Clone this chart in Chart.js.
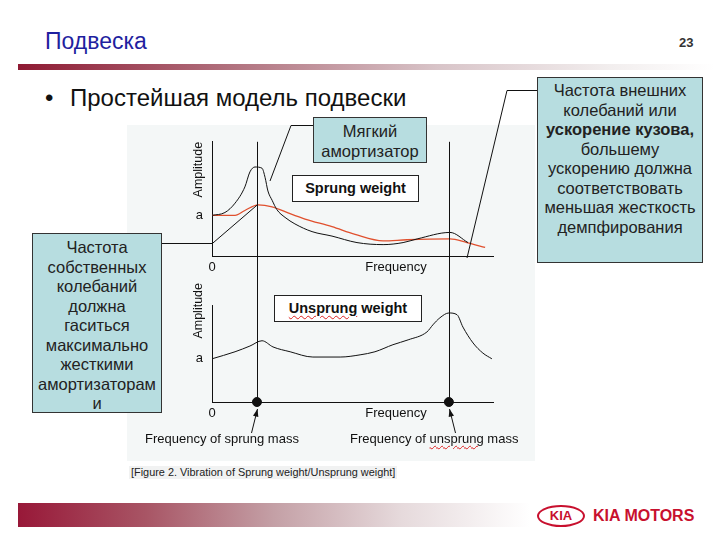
<!DOCTYPE html>
<html lang="ru">
<head>
<meta charset="utf-8">
<title>Подвеска</title>
<script src="https://cdn.jsdelivr.net/npm/chart.js@4.4.0/dist/chart.umd.min.js"></script>
<style>
  body { margin: 0; background: #fff; font-family: "Liberation Sans", Arial, sans-serif; }
  #lamina { position: relative; width: 720px; height: 540px; overflow: hidden; }
  .abs { position: absolute; white-space: nowrap; line-height: 1; }
  .caja {
    position: absolute; box-sizing: border-box; border: 1px solid #333;
    background: #b7dde0; text-align: center; font-size: 16.5px; line-height: 19.5px; color: #222;
  }
  .rotulo {
    position: absolute; box-sizing: border-box; border: 1px solid #222; background: #fff;
    text-align: center; font-weight: bold; font-size: 14.5px; line-height: 25px; color: #111;
  }
  .ondulado { text-decoration: underline wavy #d22; text-decoration-thickness: 1px; text-underline-offset: 2px; }
  .grafico { position: absolute; z-index: 1; }
</style>
</head>
<body>
<div id="lamina">
  <div class="abs" style="left:45px; top:30px; font-size:23px; color:#1f1f9f;">Подвеска</div>
  <div class="abs" style="left:679px; top:36px; font-size:13px; font-weight:bold; color:#333;">23</div>
  <div class="abs" style="left:18px; top:64px; width:697px; height:6px;
       background:linear-gradient(to right,#8e1a33 0%,#b0707d 30%,#d8c4c8 60%,#f2eeee 85%,#fff 100%);"></div>
  <div class="abs" style="left:45px; top:86px; font-size:24px; color:#111;">•</div>
  <div class="abs" style="left:70px; top:86px; font-size:24px; color:#111;">Простейшая модель подвески</div>

  <!-- fondo de la figura -->
  <div class="abs" style="left:127px; top:125px; width:408px; height:336px; background:#f4f7f7;"></div>
  <div class="abs" style="left:129px; top:466px; padding:1px 2px; font-size:10.9px; color:#222; background:#f1f2f2;">[Figure 2. Vibration of Sprung weight/Unsprung weight]</div>

  <div class="grafico" style="left:127px; top:125px; width:408px; height:160px;"><canvas id="graficoSusp"></canvas></div>
  <div class="grafico" style="left:127px; top:256px; width:408px; height:200px;"><canvas id="graficoNoSusp"></canvas></div>

  <div class="abs" style="left:145px; top:432px; font-size:13px; color:#111; z-index:2;">Frequency of sprung mass</div>
  <div class="abs" style="left:350px; top:432px; font-size:13px; color:#111; z-index:2;">Frequency of <span class="ondulado">unsprung</span> mass</div>

  <!-- lineas de las llamadas -->
  <svg class="abs" width="720" height="540" style="left:0; top:0; z-index:2; pointer-events:none;">
    <polyline points="313,125.5 291,125.5 270,181" fill="none" stroke="#111" stroke-width="1"/>
    <polyline points="537,90.5 507,90.5 467,258" fill="none" stroke="#111" stroke-width="1"/>
    <polyline points="162,243.5 212,243.5" fill="none" stroke="#111" stroke-width="1"/>
  </svg>

  <div class="caja" style="left:313px; top:117px; width:114px; height:46px; padding-top:4px; z-index:3;">Мягкий<br>амортизатор</div>
  <div class="rotulo" style="left:292px; top:175px; width:127px; height:27px; z-index:3;">Sprung weight</div>
  <div class="rotulo" style="left:274px; top:295px; width:148px; height:27px; z-index:3;"><span class="ondulado">Unsprung</span> weight</div>
  <div class="caja" style="left:32px; top:233px; width:130px; height:180px; padding-top:4px; z-index:3;">Частота<br>собственных<br>колебаний<br>должна<br>гаситься<br>максимально<br>жесткими<br>амортизаторам<br>и</div>
  <div class="caja" style="left:537px; top:77px; width:166px; height:186px; padding-top:3px; z-index:3;">Частота внешних<br>колебаний или<br><b>ускорение кузова,</b><br>большему<br>ускорению должна<br>соответствовать<br>меньшая жесткость<br>демпфирования</div>

  <!-- pie de la lamina -->
  <div class="abs" style="left:18px; top:503px; width:512px; height:24px;
       background:linear-gradient(to right,#981838 0%,#a85565 25%,#c4a0a6 50%,#e6dadc 75%,#fff 100%);"></div>
  <div class="abs" style="left:537px; top:505px; width:48px; height:22px; box-sizing:border-box; border:2px solid #c8102e;
       border-radius:50%; text-align:center; font-size:13px; line-height:18px; font-weight:bold; color:#c8102e;">KIA</div>
  <div class="abs" style="left:593px; top:508px; font-size:16px; font-weight:bold; color:#c8102e;">KIA MOTORS</div>
</div>

<script>
// Frecuencias propias (unidades del eje de frecuencia)
var FREC_SUSPENDIDA = 1.6;
var FREC_NO_SUSPENDIDA = 8.43;

// Etiquetas de los ejes
var TICKS_X = [0, 6.55];
var ETIQUETAS_X = ["0", "Frequency"];
var TICK_Y = 1;
var ETIQUETA_Y = "a";

// Rango de amplitud de cada grafico (max de la escala y tope de la linea del eje)
var MAX_Y_SUSP = 2.81;
var MAX_Y_NO_SUSP = 2.7;
var TOPE_EJE_NO_SUSP = 2.2;

// Masa suspendida: amortiguador suave (negro)
var frecSuave = [0, 0.46, 0.82, 1.17, 1.35, 1.53, 1.78, 1.89, 1.99, 2.14, 2.31, 2.60, 2.95, 3.56, 4.27, 5.16, 6.09, 6.80, 7.30, 8.47, 9.11];
var ampSuave = [1.0, 1.07, 1.30, 1.70, 2.07, 2.19, 2.16, 1.93, 1.60, 1.37, 1.14, 0.95, 0.79, 0.60, 0.49, 0.33, 0.28, 0.33, 0.42, 0.58, 0.33];

// Masa suspendida: curva roja
var frecRoja = [0, 0.82, 1.17, 1.64, 2.14, 2.60, 3.31, 4.27, 5.09, 6.09, 6.94, 8.47, 9.07, 9.72];
var ampRoja = [1.0, 1.0, 1.12, 1.26, 1.21, 1.09, 0.91, 0.72, 0.53, 0.37, 0.40, 0.42, 0.33, 0.21];

// Masa suspendida: amortiguador duro (negro, empieza abajo)
var frecDuro = [0, 1.6];
var ampDuro = [0.30, 1.25];

// Masa no suspendida
var frecNoSusp = [0, 0.82, 1.35, 1.78, 2.17, 2.78, 3.59, 4.56, 5.27, 5.80, 6.44, 6.98, 7.65, 7.86, 8.11, 8.43, 8.72, 8.93, 9.29, 9.64, 9.96];
var ampNoSusp = [0.98, 1.14, 1.27, 1.39, 1.25, 1.14, 1.02, 1.02, 1.07, 1.14, 1.30, 1.41, 1.59, 1.75, 1.91, 2.02, 1.98, 1.70, 1.34, 1.11, 0.98];

var FUENTE = "'Liberation Sans', Arial, sans-serif";
Chart.defaults.font.family = FUENTE;
Chart.defaults.color = "#111";

function puntos(xs, ys) {
  return xs.map((x, i) => ({ x: x, y: ys[i] }));
}

function curva(xs, ys, color, ancho) {
  return {
    data: puntos(xs, ys),
    borderColor: color,
    borderWidth: ancho,
    pointRadius: 0,
    cubicInterpolationMode: "monotone",
    fill: false,
  };
}

// Lineas verticales de las frecuencias propias, flechas y eje Y recortado
const guias = {
  id: "guias",
  afterDatasetsDraw(chart, args, opts) {
    const ctx = chart.ctx;
    const area = chart.chartArea;
    const escalaX = chart.scales.x;
    const escalaY = chart.scales.y;
    ctx.save();
    ctx.strokeStyle = "#111";
    ctx.fillStyle = "#111";
    ctx.lineWidth = 1;

    if (opts.topeEje != null) {
      const ex = Math.round(area.left) + 0.5;
      ctx.beginPath();
      ctx.moveTo(ex, escalaY.getPixelForValue(opts.topeEje));
      ctx.lineTo(ex, area.bottom);
      ctx.stroke();
    }

    [FREC_SUSPENDIDA, FREC_NO_SUSPENDIDA].forEach((f, i) => {
      const px = Math.round(escalaX.getPixelForValue(f)) + 0.5;
      ctx.beginPath();
      ctx.moveTo(px, opts.desdeArriba ? 0 : area.top);
      ctx.lineTo(px, area.bottom);
      ctx.stroke();

      if (opts.flechas) {
        const dx = i === 0 ? -6 : 6;
        const x0 = px + dx, y0 = area.bottom + 31;
        const x1 = px, y1 = area.bottom + 7;
        ctx.beginPath();
        ctx.moveTo(x0, y0);
        ctx.lineTo(x1, y1);
        ctx.stroke();
        // punta de la flecha
        const ang = Math.atan2(y1 - y0, x1 - x0);
        ctx.beginPath();
        ctx.moveTo(x1, y1);
        ctx.lineTo(x1 - 8 * Math.cos(ang - 0.35), y1 - 8 * Math.sin(ang - 0.35));
        ctx.lineTo(x1 - 8 * Math.cos(ang + 0.35), y1 - 8 * Math.sin(ang + 0.35));
        ctx.closePath();
        ctx.fill();
      }
    });
    ctx.restore();
  },
};

function opcionesEjes(maxY, ejeX, bordeY) {
  return {
    x: {
      type: "linear",
      min: 0,
      max: 10,
      grid: { display: false, drawTicks: false },
      border: { display: true, color: "#111", width: 1 },
      afterBuildTicks: (s) => { s.ticks = TICKS_X.map((v) => ({ value: v })); },
      afterFit: (s) => { s.height = ejeX.alto; },
      ticks: {
        autoSkip: false,
        maxRotation: 0,
        padding: ejeX.pad,
        font: { size: 13 },
        callback: (v, i) => ETIQUETAS_X[i],
      },
    },
    y: {
      min: 0,
      max: maxY,
      grid: { display: false, drawTicks: false },
      border: { display: bordeY, color: "#111", width: 1 },
      afterBuildTicks: (s) => { s.ticks = [{ value: TICK_Y }]; },
      afterFit: (s) => { s.width = 85; },
      ticks: { padding: 9, font: { size: 13 }, callback: () => ETIQUETA_Y },
      title: {
        display: true,
        text: "Amplitude",
        align: "end",
        font: { size: 12.5 },
        padding: { top: 64, bottom: 0 },
      },
    },
  };
}

var opcionesBase = {
  responsive: true,
  maintainAspectRatio: false,
  animation: false,
  plugins: { legend: { display: false }, tooltip: { enabled: false } },
};

// Grafico superior: masa suspendida
new Chart(document.getElementById("graficoSusp"), {
  type: "line",
  data: {
    datasets: [
      curva(frecDuro, ampDuro, "#111", 1),
      curva(frecSuave, ampSuave, "#111", 1),
      curva(frecRoja, ampRoja, "#e0502e", 1.3),
    ],
  },
  options: Object.assign({}, opcionesBase, {
    layout: { padding: { top: 10, left: 0, right: 42, bottom: 0 } },
    scales: opcionesEjes(MAX_Y_SUSP, { alto: 29, pad: 4 }, true),
    plugins: Object.assign({}, opcionesBase.plugins, { guias: { desdeArriba: false, flechas: false, topeEje: null } }),
  }),
  plugins: [guias],
});

// Grafico inferior: masa no suspendida
new Chart(document.getElementById("graficoNoSusp"), {
  type: "line",
  data: {
    datasets: [
      curva(frecNoSusp, ampNoSusp, "#111", 1),
      {
        data: puntos([FREC_SUSPENDIDA, FREC_NO_SUSPENDIDA], [0, 0]),
        showLine: false,
        pointRadius: 4.5,
        pointBackgroundColor: "#111",
        pointBorderColor: "#111",
        clip: false,
      },
    ],
  },
  options: Object.assign({}, opcionesBase, {
    layout: { padding: { top: 27, left: 0, right: 42, bottom: 0 } },
    scales: opcionesEjes(MAX_Y_NO_SUSP, { alto: 54, pad: 4 }, false),
    plugins: Object.assign({}, opcionesBase.plugins, { guias: { desdeArriba: true, flechas: true, topeEje: TOPE_EJE_NO_SUSP } }),
  }),
  plugins: [guias],
});
</script>
</body>
</html>
